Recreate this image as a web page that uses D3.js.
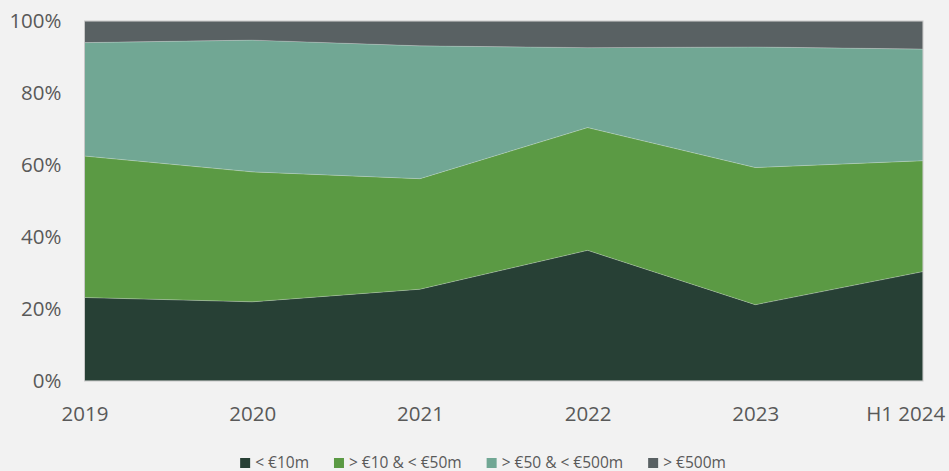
<!DOCTYPE html>
<html lang="en">
<head>
  <meta charset="UTF-8">
  <title>Deal size split</title>
  <script src="https://cdnjs.cloudflare.com/ajax/libs/d3/7.8.5/d3.min.js"></script>
  <style>
    html, body { margin: 0; padding: 0; background: #f2f2f2; }
    svg { display: block; font-family: "Open Sans", sans-serif; }
    .axis text { fill: #595959; font-size: 20.5px; font-family: "Open Sans", sans-serif; }
    .legend text { fill: #595959; font-size: 15.5px; }
  </style>
</head>
<body>
  <div id="chart"></div>
  <script>
    // data (share of deals, %)
    var years = ["2019", "2020", "2021", "2022", "2023", "H1 2024"];
    var seriesNames = ["< €10m", "> €10 & < €50m", "> €50 & < €500m", "> €500m"];
    var under10 = [23.2, 22.0, 25.5, 36.3, 21.2, 30.4];
    var from10to50 = [39.3, 36.1, 30.7, 34.1, 38.1, 30.8];
    var from50to500 = [31.5, 36.6, 36.9, 22.2, 33.5, 31.0];
    var over500 = [6.0, 5.3, 6.9, 7.4, 7.2, 7.8];
    var yTicks = [0, 0.2, 0.4, 0.6, 0.8, 1];

    var colors = ["#274035", "#5b9a44", "#71a794", "#596163"];

    var W = 949, H = 471;
    var plotL = 84.5, plotR = 923, plotT = 21, plotB = 381;

    var rows = years.map(function(y, i) {
      return { year: y, s0: under10[i], s1: from10to50[i], s2: from50to500[i], s3: over500[i] };
    });

    var stack = d3.stack()
        .keys(["s0", "s1", "s2", "s3"])
        .offset(d3.stackOffsetExpand);
    var layers = stack(rows);

    var x = d3.scalePoint().domain(years).range([plotL, plotR]).padding(0);
    var y = d3.scaleLinear().domain([0, 1]).range([plotB, plotT]);

    var svg = d3.select("#chart").append("svg")
        .attr("width", W)
        .attr("height", H);

    svg.append("rect").attr("width", W).attr("height", H).attr("fill", "#f2f2f2");

    var area = d3.area()
        .x(function(d) { return x(d.data.year); })
        .y0(function(d) { return y(d[0]); })
        .y1(function(d) { return y(d[1]); });

    svg.selectAll(".layer")
        .data(layers)
      .enter().append("path")
        .attr("class", "layer")
        .attr("d", area)
        .attr("fill", function(d, i) { return colors[i]; })
        .attr("stroke", "rgba(255,255,255,0.25)")
        .attr("stroke-width", 0.75);

    // plot border
    svg.append("rect")
        .attr("x", plotL).attr("y", plotT)
        .attr("width", plotR - plotL).attr("height", plotB - plotT)
        .attr("fill", "none")
        .attr("stroke", "#c8c8c8")
        .attr("stroke-width", 1);

    // y axis
    var yAxis = svg.append("g")
        .attr("class", "axis")
        .attr("transform", "translate(" + plotL + ",0)")
        .call(d3.axisLeft(y).tickValues(yTicks).tickFormat(d3.format(".0%")).tickSize(0).tickPadding(23));
    yAxis.select(".domain").remove();

    // x axis
    var xAxis = svg.append("g")
        .attr("class", "axis")
        .attr("transform", "translate(0," + plotB + ")")
        .call(d3.axisBottom(x).tickSize(0).tickPadding(25.5));
    xAxis.select(".domain").remove();

    // keep the last label inside the frame, like the original
    xAxis.selectAll(".tick text").each(function() {
      var b = this.getBBox();
      var tx = x(d3.select(this.parentNode).datum());
      var overflow = tx + b.x + b.width - (W - 4);
      if (overflow > 0) d3.select(this).attr("x", -overflow);
    });

    // legend
    var legend = svg.append("g").attr("class", "legend");
    var items = legend.selectAll("g")
        .data(seriesNames)
      .enter().append("g");
    items.append("rect")
        .attr("width", 10).attr("height", 10)
        .attr("y", -5)
        .attr("fill", function(d, i) { return colors[i]; });
    items.append("text")
        .attr("x", 15)
        .attr("dy", "0.35em")
        .text(function(d) { return d; });

    var pos = 0;
    items.each(function() {
      var w = this.getBBox().width;
      d3.select(this).attr("transform", "translate(" + pos + ",0)");
      pos += w + 25;
    });
    var total = pos - 25;
    legend.attr("transform", "translate(" + (483 - total / 2) + ",463)");
  </script>
</body>
</html>
